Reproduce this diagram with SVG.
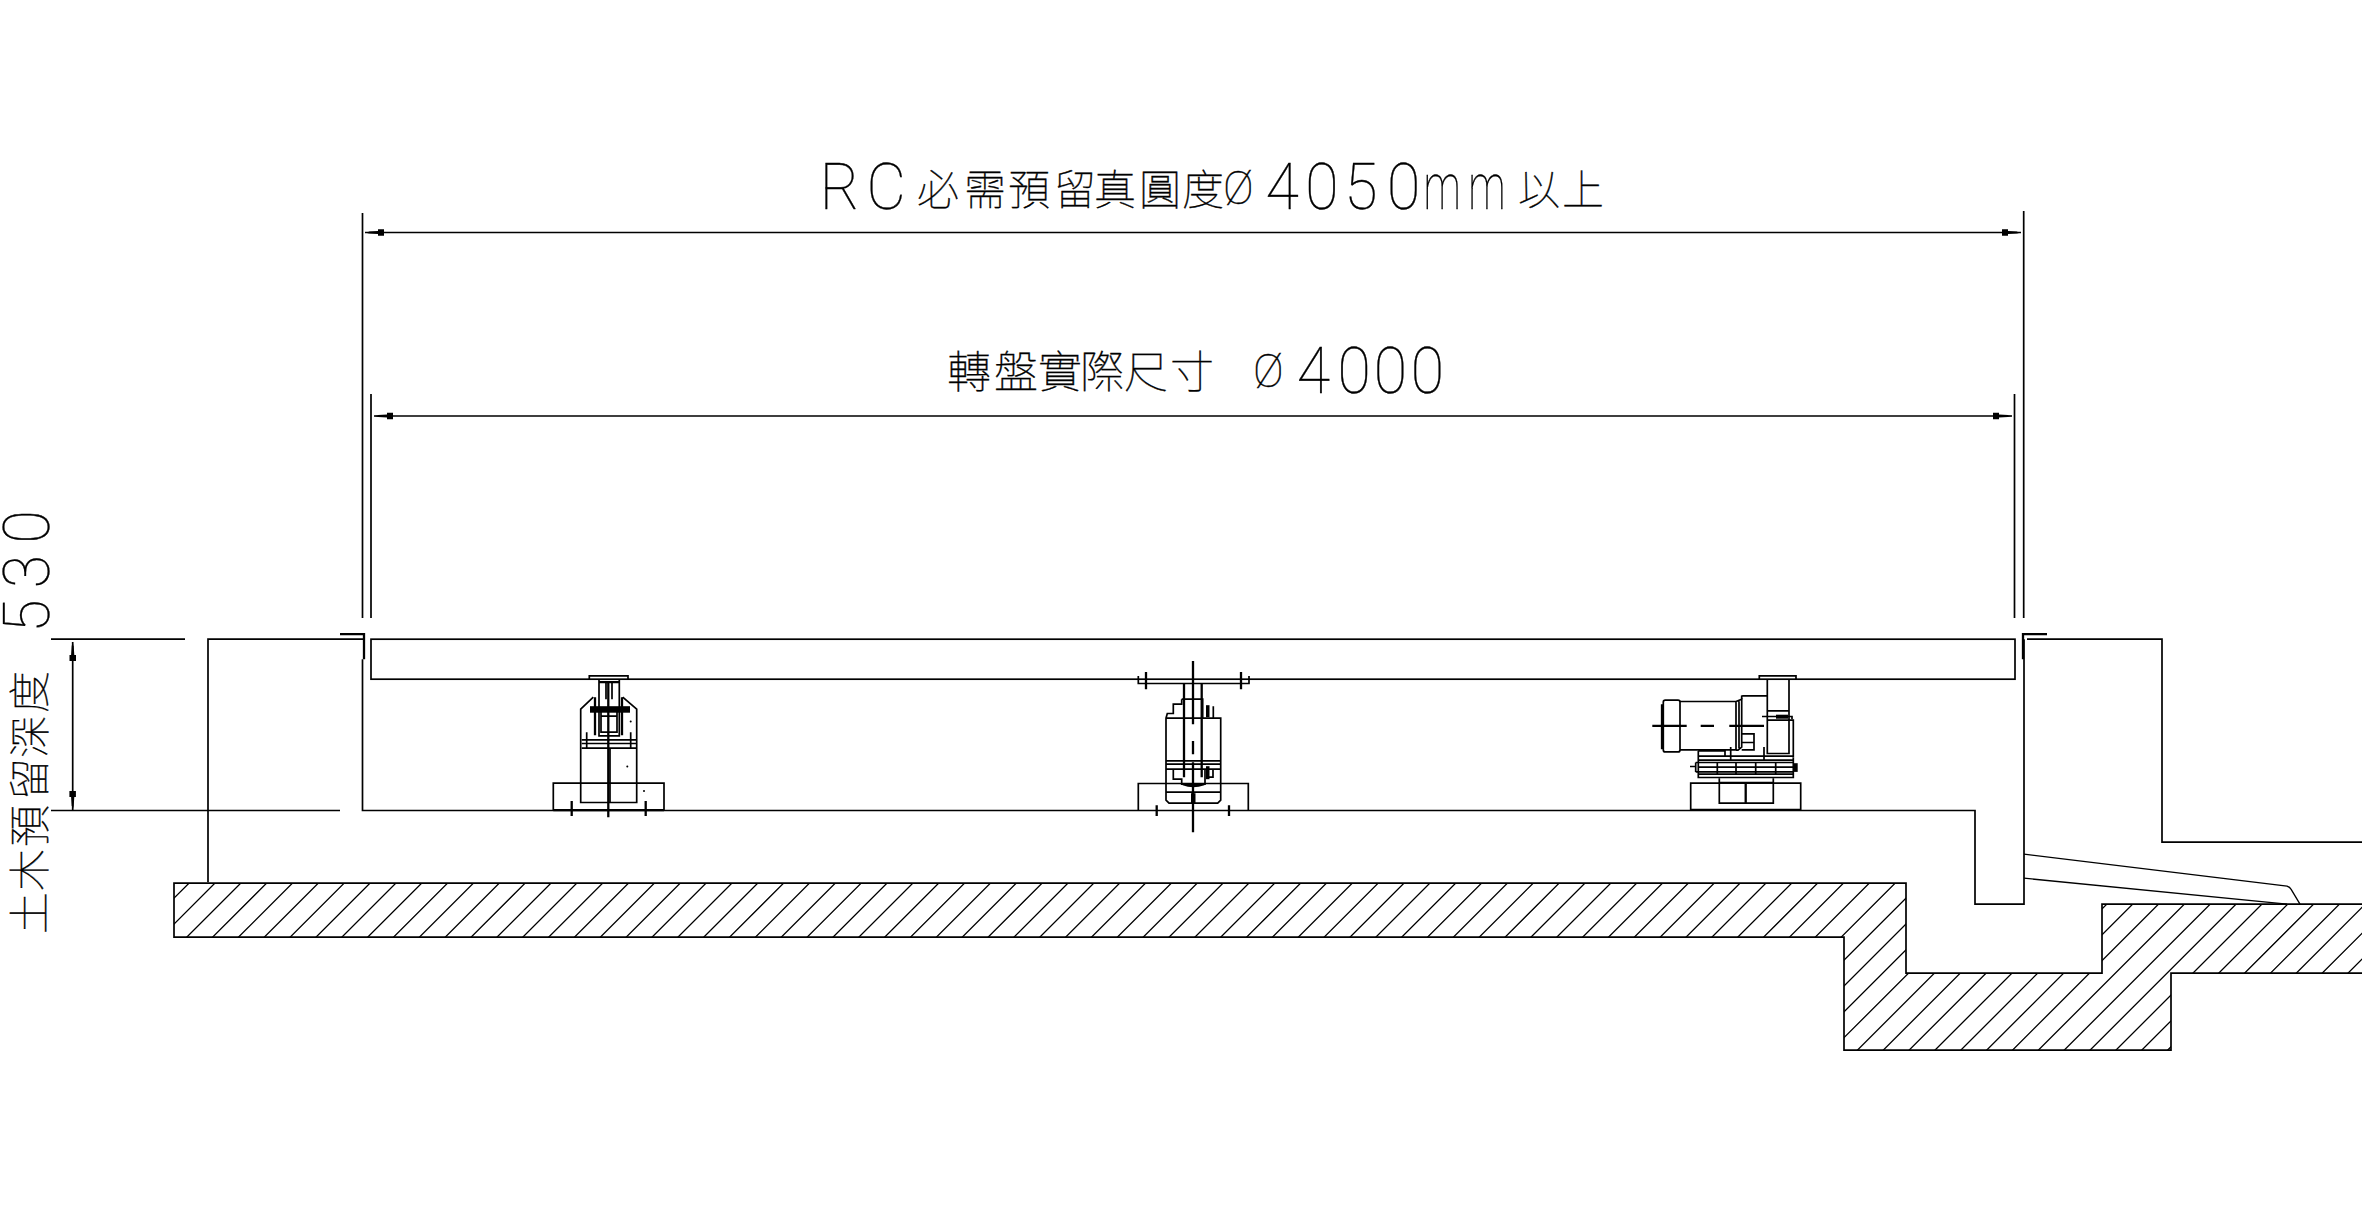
<svg xmlns="http://www.w3.org/2000/svg" width="2368" height="1216" viewBox="0 0 2368 1216">
<style>
.l{fill:none;stroke:#000;stroke-width:1.7}
.t{fill:none;stroke:#000;stroke-width:2.3}
.h{fill:none;stroke:#000;stroke-width:1.3}
.k{fill:#000}
.cj{font-family:"Noto Sans CJK TC","Noto Sans CJK SC",sans-serif;font-weight:100;fill:#000;stroke:#000;stroke-width:.35}
.la{font-family:"Roboto","Liberation Sans",sans-serif;font-weight:100;fill:#000;stroke:#000;stroke-width:.35}
</style>
<defs>
<path id="ah" class="k" d="M0 0L4 -.8L4 -1L13 -1.6L13 -3.3L19 -3.3L19 3.2L13 3.2L13 1.6L4 1Z"/>
<clipPath id="hc"><path d="M174 884H1906V974H2102V905H2362V974H2171V1051H1844V938H174Z"/></clipPath>
</defs>
<rect width="2368" height="1216" fill="#fff"/>
<g transform="translate(0 -.8)">
<g id="hatch">
<path class="h" clip-path="url(#hc)" d="M193 880l-175 175M218.85 880l-175 175M244.7 880l-175 175M270.55 880l-175 175M296.4 880l-175 175M322.25 880l-175 175M348.1 880l-175 175M373.95 880l-175 175M399.8 880l-175 175M425.65 880l-175 175M451.5 880l-175 175M477.35 880l-175 175M503.2 880l-175 175M529.05 880l-175 175M554.9 880l-175 175M580.75 880l-175 175M606.6 880l-175 175M632.45 880l-175 175M658.3 880l-175 175M684.15 880l-175 175M710 880l-175 175M735.85 880l-175 175M761.7 880l-175 175M787.55 880l-175 175M813.4 880l-175 175M839.25 880l-175 175M865.1 880l-175 175M890.95 880l-175 175M916.8 880l-175 175M942.65 880l-175 175M968.5 880l-175 175M994.35 880l-175 175M1020.2 880l-175 175M1046.05 880l-175 175M1071.9 880l-175 175M1097.75 880l-175 175M1123.6 880l-175 175M1149.45 880l-175 175M1175.3 880l-175 175M1201.15 880l-175 175M1227 880l-175 175M1252.85 880l-175 175M1278.7 880l-175 175M1304.55 880l-175 175M1330.4 880l-175 175M1356.25 880l-175 175M1382.1 880l-175 175M1407.95 880l-175 175M1433.8 880l-175 175M1459.65 880l-175 175M1485.5 880l-175 175M1511.35 880l-175 175M1537.2 880l-175 175M1563.05 880l-175 175M1588.9 880l-175 175M1614.75 880l-175 175M1640.6 880l-175 175M1666.45 880l-175 175M1692.3 880l-175 175M1718.15 880l-175 175M1744 880l-175 175M1769.85 880l-175 175M1795.7 880l-175 175M1821.55 880l-175 175M1847.4 880l-175 175M1873.25 880l-175 175M1899.1 880l-175 175M1924.95 880l-175 175M1950.8 880l-175 175M1976.65 880l-175 175M2002.5 880l-175 175M2028.35 880l-175 175M2054.2 880l-175 175M2080.05 880l-175 175M2105.9 880l-175 175M2131.75 880l-175 175M2157.6 880l-175 175M2183.45 880l-175 175M2209.3 880l-175 175M2235.15 880l-175 175M2261 880l-175 175M2286.85 880l-175 175M2312.7 880l-175 175M2338.55 880l-175 175M2364.4 880l-175 175M2390.25 880l-175 175M2416.1 880l-175 175M2441.95 880l-175 175M2467.8 880l-175 175"/>
<path class="l" d="M2362 905H2102V974H1906V884H174V938H1844V1051H2171V974H2362"/>
</g>
<g id="structure">
<path class="l" d="M208 883V640H364"/>
<path class="l" d="M362.5 660V811.3H1975V905H2024V640"/>
<path class="l" d="M2027 640H2162V843H2362"/>
<path class="l" d="M51 640H185M51 811.3H340"/>
<rect class="l" x="371" y="640" width="1644" height="40"/>
<path class="t" d="M340 635H364V660M2047 635H2023V660"/>
<path class="h" d="M2024 855L2287 887Q2290 888 2291 890L2300 905M2024 879L2287 905"/>
</g>
<g id="machine-1">
<path class="t" d="M553.3 811H664"/>
<path class="l" d="M553.3 811V784H664V811"/>
<path class="l" d="M589.3 680V676.7H628V680"/>
<path class="l" d="M599 680V736.7H619.3V680M606 683V700M612 683V700M601 712V733H617V712M601 717H617"/>
<path class="l" d="M593.3 698L580.7 710V803.3H636.7V710L622.7 698"/>
<path class="l" d="M581.7 740.7H636M581.7 744.3H636M581.7 749H636M586.7 733V749M630.7 733V749"/>
<path class="t" d="M595 698V736M622 698V736M599 683H619M608.3 683V818M571.7 801.7V816.7M645.7 801.7V816.7"/>
<path class="l" d="M610 749V803"/>
<rect class="k" x="590" y="707" width="40" height="6.5"/>
<circle class="k" cx="630.7" cy="722.3" r="1"/><circle class="k" cx="627.3" cy="767.3" r="1"/><circle class="k" cx="644" cy="791.7" r="1"/>
</g>
<g id="machine-2">
<path class="l" d="M1138.3 811V784.3H1248.3V811M1138.3 676.7V684.3H1249V676.7"/>
<path class="t" d="M1146 672.7V690M1241 672.7V690M1156.7 806V816.7M1229 806V816.7M1193 661.7V725M1193 741.7V755M1193 763V833M1184 684V778M1201.7 684V778"/>
<path class="l" d="M1181.7 700H1202.7V718M1181.7 700V705H1173.3V714.3H1167.3L1166 719V801L1169 804H1217.7L1220.7 801V719H1213.3V707M1166 719H1220.7"/>
<path class="l" d="M1166 761.7H1220.7M1166 765H1220.7M1166 770H1220.7M1173.3 770V780H1181.7V785H1205V770M1213 770V778H1209M1166 793H1220.7"/>
<rect class="k" x="1206" y="706" width="3.5" height="12"/>
<rect class="k" x="1206" y="767" width="3.5" height="13"/>
<path class="t" d="M1183 785Q1193 789 1204 785"/>
<rect class="k" x="1191" y="794" width="4.5" height="10"/>
</g>
<g id="machine-3">
<path class="l" d="M1759.3 680V676.7H1796V680M1767.3 680V754.3H1789V680M1767.3 711.7H1789M1767.3 721H1793.3V758.3"/>
<rect class="k" x="1776" y="715.5" width="12" height="4"/>
<path class="l" d="M1762 717.3H1792V720"/>
<path class="l" d="M1665.3 701H1678Q1680 701 1680 703V750.7Q1680 752.7 1678 752.7H1665.3Q1663.3 752.7 1663.3 750.7V703Q1663.3 701 1665.3 701ZM1661.7 705V750"/>
<path class="l" d="M1680 702.3H1736V750.7H1680M1736 702.3L1741.7 700V748L1738 751H1736M1739 702V749"/>
<path class="l" d="M1741.7 700V697L1743 696.7H1767.3M1741.7 734.7H1754V743.3H1741.7M1754 743.3V750.7H1741.7"/>
<path class="t" d="M1652.3 726.7H1686.7M1700.7 726.7H1714M1729.3 726.7H1764"/>
<path class="l" d="M1698.3 751.7H1725V757H1698.3M1698.3 751.7V778.3H1793.3V758.3M1698.3 761H1793.3M1725 757H1793.3M1695.7 763.3H1793M1695.7 772.7H1793M1695.7 763.3V772.7M1690 767.3H1696M1698.3 775H1793.3M1698.3 768H1793.3"/>
<path class="l" d="M1717.3 763V775M1736 763V775M1755.7 763V775M1775.7 763V775M1730.7 747.7V761M1764 747.7V761"/>
<rect class="k" x="1793" y="764" width="4.7" height="8.7"/>
<path class="l" d="M1719.3 779V783.3H1773.3V779"/>
<path class="l" d="M1690.7 810.7V784H1800.7V810.7M1719.3 784V804H1773.3V784"/>
<path class="t" d="M1745.7 784V804M1690.7 810.7H1800.7"/>
</g>
</g>
<g id="connectors">
<path class="l" d="M362.5 213V618M371 394V618M2023.7 211V618M2014.5 394V618"/>
<path class="l" d="M365 232.5H2021M374 416H2012M72.7 642V810"/>
<use href="#ah" x="365" y="232.5"/>
<use href="#ah" x="374" y="416"/>
<use href="#ah" transform="translate(2021 232.5) scale(-1 1)"/>
<use href="#ah" transform="translate(2012 416) scale(-1 1)"/>
<use href="#ah" transform="translate(72.7 642) rotate(90)"/>
<use href="#ah" transform="translate(72.7 810) rotate(-90)"/>
</g>
<g id="labels">
<text class="la" transform="translate(0 209) scale(.95 1)" font-size="64" x="863 912">RC</text>
<text class="cj" font-size="42" y="205" x="917 964 1008 1054 1094 1139 1182">必需預留真圓度</text>
<text class="la" font-size="46" x="1223" y="204">Ø</text>
<text class="la" transform="translate(0 209) scale(.95 1)" font-size="64" x="1332 1374 1415 1460">4050</text>
<text class="la" transform="translate(0 209) scale(.65 1)" font-size="64" x="2190 2259">mm</text>
<text class="cj" font-size="42" y="205" x="1518 1562">以上</text>
<text class="cj" font-size="44" y="388" x="947 994 1038 1080 1124 1170">轉盤實際尺寸</text>
<text class="la" font-size="46" x="1253" y="387">Ø</text>
<text class="la" transform="translate(0 393) scale(.95 1)" font-size="64" x="1365 1408 1446 1485">4000</text>
<text class="cj" font-size="42" transform="translate(45 933) rotate(-90)" x="-1 42 86 133 175 220">土木預留深度</text>
<text class="la" font-size="64" transform="translate(49 933) rotate(-90) scale(.95 1)" x="316 363 410">530</text>
</g>
</svg>
